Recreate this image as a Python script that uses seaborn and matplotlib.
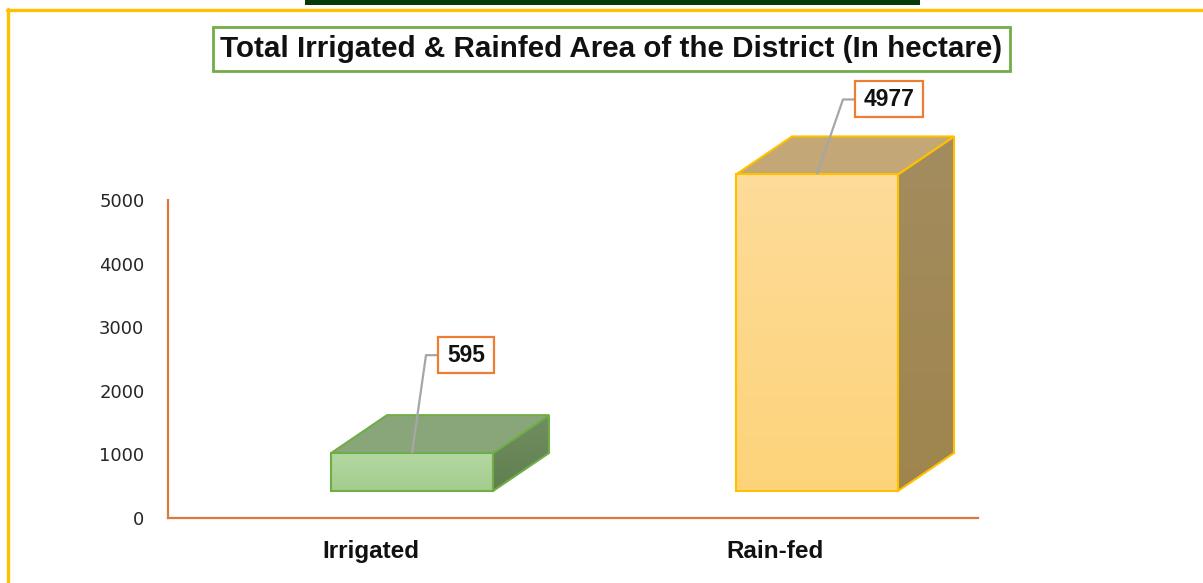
import numpy as np
import pandas as pd
import matplotlib
matplotlib.use("Agg")
import matplotlib.pyplot as plt
import seaborn as sns
from matplotlib.patches import Polygon, Rectangle
from matplotlib.lines import Line2D
from matplotlib.colors import LinearSegmentedColormap

# data
categories = ["Irrigated", "Rain-fed"]
area_ha = [595, 4977]
y_ticks = [0, 1000, 2000, 3000, 4000, 5000]
title = "Total Irrigated & Rainfed Area of the District (In hectare)"

# face colours (front gradient, top face, side gradient, outline)
front_top = ["#b4d7a2", "#fedc99"]
front_bottom = ["#a3cd8c", "#fdd37a"]
top_face = ["#89a67a", "#c3a776"]
side_top = ["#718e61", "#a38c5f"]
side_bottom = ["#607f4f", "#9f854d"]
edge = ["#70ad47", "#ffc000"]

# label leader geometry in pixels: (elbow dx, elbow dy, box centre dx)
label_offsets = [(14, 98, 54), (26, 75, 72)]

W, H = 1203, 583
sns.set_theme(style="white")
plt.rcParams["font.family"] = ["Liberation Sans", "DejaVu Sans"]

fig = plt.figure(figsize=(W / 100, H / 100), dpi=100)
ax = fig.add_axes([168 / W, 65 / H, 810 / W, 438 / H])

df = pd.DataFrame({"cat": categories, "area": area_ha})
sns.barplot(data=df, x="cat", y="area", hue="cat", palette=front_top,
            width=0.4, legend=False, saturation=1, ax=ax)

ymax = 5000 * 438 / 318
sx = 2 / 810          # category units per pixel
sy = ymax / 438       # value units per pixel
shift_x = 41.5 * sx
base = 27 * sy
dx, dy = 56 * sx, 38 * sy


def fill_gradient(patch, c_top, c_bottom, extent, z):
    cmap = LinearSegmentedColormap.from_list("g", [c_bottom, c_top])
    grad = np.linspace(0, 1, 64).reshape(-1, 1)
    im = ax.imshow(grad, cmap=cmap, extent=extent, origin="lower",
                   aspect="auto", zorder=z, interpolation="bilinear")
    im.set_clip_path(patch)


bars = sorted(ax.patches, key=lambda p: p.get_x())
for i, bar in enumerate(bars):
    bar.set_x(bar.get_x() + shift_x)
    bar.set_y(base)
    x0 = bar.get_x()
    x1 = x0 + bar.get_width()
    y0 = base
    y1 = base + bar.get_height()

    side = Polygon([(x1, y0), (x1 + dx, y0 + dy), (x1 + dx, y1 + dy), (x1, y1)],
                   closed=True, fc="none", ec=edge[i], lw=1.5, zorder=2.5)
    ax.add_patch(side)
    fill_gradient(side, side_top[i], side_bottom[i], (x1, x1 + dx, y0, y1 + dy), 2.2)

    top = Polygon([(x0, y1), (x0 + dx, y1 + dy), (x1 + dx, y1 + dy), (x1, y1)],
                  closed=True, fc=top_face[i], ec=edge[i], lw=1.5, zorder=2.6)
    ax.add_patch(top)

    bar.set_facecolor("none")
    bar.set_edgecolor(edge[i])
    bar.set_linewidth(1.5)
    bar.set_zorder(4)
    fill_gradient(bar, front_top[i], front_bottom[i], (x0, x1, y0, y1), 3.5)

ax.set_xlim(-0.5, 1.5)
ax.set_ylim(0, ymax)
ax.set_xlabel("")
ax.set_ylabel("")

for s in ["top", "right"]:
    ax.spines[s].set_visible(False)
for s in ["left", "bottom"]:
    ax.spines[s].set_color("#d97a3c")
    ax.spines[s].set_linewidth(1.6)
ax.spines["left"].set_bounds(0, 5000)

ax.set_yticks(y_ticks)
ax.set_yticklabels([str(v) for v in y_ticks], fontsize=13, color="#262626",
                   family=["DejaVu Sans"])
ax.tick_params(axis="y", length=0, pad=17)
ax.tick_params(axis="x", length=0, pad=15.5)
for lab in ax.get_xticklabels():
    lab.set_fontsize(17.5)
    lab.set_fontweight("bold")
    lab.set_color("#111111")

# value labels with leader lines
fig.canvas.draw()
renderer = fig.canvas.get_renderer()
to_disp = ax.transData.transform
to_data = ax.transData.inverted().transform
for i, bar in enumerate(bars):
    cx = bar.get_x() + bar.get_width() / 2
    cy = bar.get_y() + bar.get_height()
    px, py = to_disp((cx, cy))
    ex, ey, bx = label_offsets[i]
    pts = to_data([(px, py), (px + ex, py + ey), (px + bx, py + ey)])
    ax.plot(pts[:, 0], pts[:, 1], color="#a6a6a6", lw=1.6, zorder=5,
            solid_capstyle="butt", clip_on=False)
    t = ax.text(pts[2, 0], pts[2, 1], f"{area_ha[i]}", ha="center", va="center",
                fontsize=16.5, fontweight="bold", color="#111111", zorder=7)
    ext = t.get_window_extent(renderer)
    bw = ext.width + 18
    bh = 36
    (rx0, ry0), (rx1, ry1) = to_data([(px + bx - bw / 2, py + ey - bh / 2),
                                      (px + bx + bw / 2, py + ey + bh / 2)])
    ax.add_patch(Rectangle((rx0, ry0), rx1 - rx0, ry1 - ry0, fc="white",
                           ec="#ed7d31", lw=1.6, zorder=6, clip_on=False))

# title box
fig.add_artist(Rectangle((213 / W, 1 - 71 / H), (1010 - 213) / W, 44 / H,
                         transform=fig.transFigure, fill=False, ec="#70ad47", lw=2.0))
fig.text(611.5 / W, 1 - 49 / H, title, ha="center", va="center",
         fontsize=21.3, fontweight="bold", color="#111111")

# page decorations
fig.add_artist(Rectangle((305 / W, 1 - 5 / H), 615 / W, 5 / H,
                         transform=fig.transFigure, fc="#063a06", ec="none"))
fig.add_artist(Line2D([7 / W, 1], [1 - 10 / H, 1 - 10 / H],
                      transform=fig.transFigure, color="#ffc000", lw=2.4))
fig.add_artist(Line2D([8 / W, 8 / W], [0, 1 - 9 / H],
                      transform=fig.transFigure, color="#ffc000", lw=2.4))

fig.savefig("out.png", dpi=100)
